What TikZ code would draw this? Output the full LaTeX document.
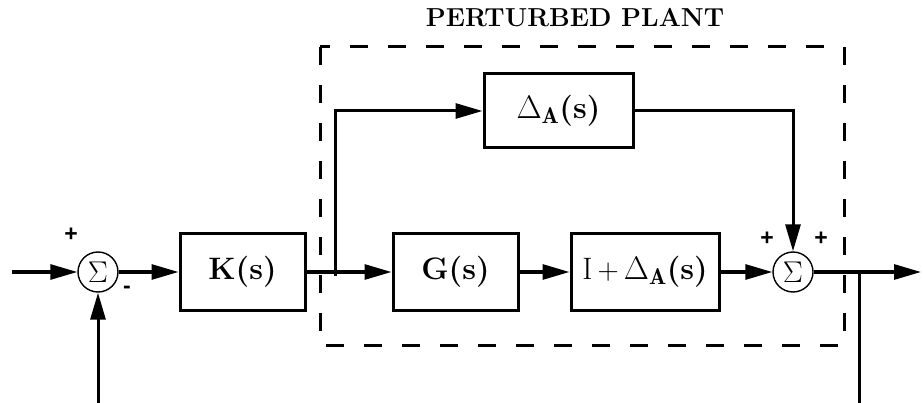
\RequirePackage{fix-cm}
\documentclass[tikz,border=0pt]{standalone}
\usepackage{fontspec}
\newfontfamily\signfont{Liberation Sans}
\usetikzlibrary{arrows.meta}
\newcommand{\scmath}[2]{\scalebox{#1}{$#2$}}
\begin{document}
\begin{tikzpicture}[x=1pt,y=-1pt,
 blk/.style={draw,line width=3pt,minimum width=#1,minimum height=76pt,inner sep=0pt,font=\fontsize{31}{36}\selectfont\bfseries},
 sumn/.style={draw,circle,line width=1.4pt,minimum size=40pt,inner sep=0pt,font=\fontsize{20}{24}\selectfont},
 wire/.style={line width=3pt},
 arr/.style={wire,-{Triangle[length=27pt,width=15pt]}},
 sgn/.style={font=\signfont\bfseries\fontsize{23}{24}\selectfont,inner sep=0pt},
 dbox/.style={line width=3pt,dash pattern=on 18pt off 20pt}]
\useasboundingbox (0,0) rectangle (923,403);
\node[font=\fontsize{26}{30}\selectfont\bfseries] (title) at (575,18) {PERTURBED PLANT};
\draw[dbox] (320,47) rectangle (844,345);
\node[sumn] (s1) at (98,272) {\scmath{1.5}{\Sigma}};
\node[blk=125pt] (K) at (242.5,272) {K(s)};
\node[blk=125pt] (G) at (455.5,272) {G(s)};
\node[blk=148pt] (IA) at (645,272) {{\mdseries I}\,\scmath{0.95}{+}\,\scmath{1.05}{\Delta_{\mathbf{A}}}(s)};
\node[blk=149pt,minimum height=74pt] (D) at (558.5,111) {\scmath{1.05}{\Delta_{\mathbf{A}}}(s)};
\node[sumn] (s2) at (793,272) {\scmath{1.5}{\Sigma}};
\coordinate (in) at (12,272);
\coordinate (fb) at (98,403);
\coordinate (br) at (335,276);
\coordinate (out) at (921,272);
\coordinate (tap) at (859,272);
\coordinate (tapend) at (859,403);
\draw[arr] (in) -- (s1);
\draw[arr] (fb) -- (s1);
\draw[arr] (s1) -- (K);
\draw[arr] (K) -- (G);
\draw[arr] (br) |- (D);
\draw[arr] (G) -- (IA);
\draw[arr] (IA) -- (s2);
\draw[arr] (D) -| (s2);
\draw[arr] (s2) -- (out);
\draw[wire] (tap) -- (tapend);
\node[sgn] (p1) at (71,235) {+};
\node[sgn] (m1) at (127,290) {-};
\node[sgn] (p2) at (767,239) {+};
\node[sgn] (p3) at (821,239) {+};
\end{tikzpicture}
\end{document}
